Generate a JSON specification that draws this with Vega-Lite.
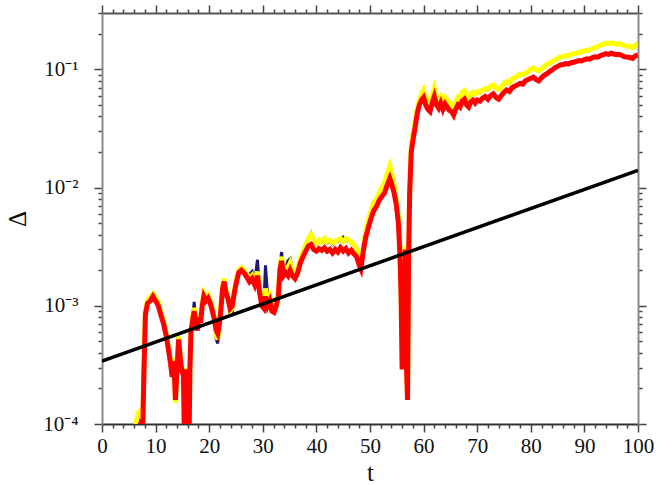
{
  "$schema": "https://vega.github.io/schema/vega-lite/v6.json",
  "width": 536,
  "height": 411,
  "autosize": {"type": "none"},
  "padding": {"left": 102, "top": 13, "right": 34, "bottom": 61},
  "background": "white",
  "config": {
    "view": {"stroke": null},
    "axis": {
      "labelFont": "Liberation Serif",
      "titleFont": "Liberation Serif",
      "labelColor": "#111",
      "titleColor": "#111",
      "labelFontSize": 21,
      "titleFontSize": 25,
      "titleFontWeight": "normal",
      "domainColor": "#8a8a8a",
      "domainWidth": 2,
      "tickColor": "#444",
      "tickWidth": 1.5,
      "grid": false
    }
  },
  "datasets": {
    "ref": [{"t": 0, "v": 0.00034}, {"t": 100, "v": 0.014}],
    "main": [
      {"t": 6.0, "r": 0.00005, "y": 0.00005, "b": 0.00005},
      {"t": 6.4, "r": 0.00008, "y": 0.000105, "b": 0.00009},
      {"t": 6.8, "r": 0.000095, "y": 0.000125, "b": 0.00011},
      {"t": 7.2, "r": 0.0001, "y": 0.00013, "b": 0.00011},
      {"t": 7.6, "r": 0.00009, "y": 0.00011, "b": 0.0001},
      {"t": 7.8, "r": 0.00025, "y": 0.00026, "b": 0.00026},
      {"t": 8.1, "r": 0.00085, "y": 0.0009, "b": 0.00088},
      {"t": 8.5, "r": 0.00105, "y": 0.00112, "b": 0.00108},
      {"t": 9.0, "r": 0.0011, "y": 0.00118, "b": 0.00114},
      {"t": 9.5, "r": 0.0012, "y": 0.00126, "b": 0.00123},
      {"t": 10.0, "r": 0.0011, "y": 0.00117, "b": 0.00113},
      {"t": 10.5, "r": 0.001, "y": 0.00106, "b": 0.00103},
      {"t": 11.0, "r": 0.00083, "y": 0.00088, "b": 0.00085},
      {"t": 11.5, "r": 0.0007, "y": 0.00074, "b": 0.00072},
      {"t": 12.0, "r": 0.00055, "y": 0.00058, "b": 0.00056},
      {"t": 12.5, "r": 0.0004, "y": 0.00042, "b": 0.00041},
      {"t": 12.8, "r": 0.00032, "y": 0.00034, "b": 0.00033},
      {"t": 13.1, "r": 0.00025, "y": 0.00027, "b": 0.00026},
      {"t": 13.4, "r": 0.00034, "y": 0.00036, "b": 0.00035},
      {"t": 13.7, "r": 0.00016, "y": 0.00015, "b": 0.000155},
      {"t": 14.0, "r": 0.0003, "y": 0.00032, "b": 0.00031},
      {"t": 14.3, "r": 0.00052, "y": 0.00055, "b": 0.00053},
      {"t": 14.6, "r": 0.00036, "y": 0.00038, "b": 0.00037},
      {"t": 14.9, "r": 0.00028, "y": 0.0003, "b": 0.00029},
      {"t": 15.2, "r": 0.00026, "y": 0.00027, "b": 0.00026},
      {"t": 15.4, "r": 0.00006, "y": 0.00006, "b": 0.00006},
      {"t": 15.6, "r": 0.00029, "y": 0.0003, "b": 0.00029},
      {"t": 15.8, "r": 0.00005, "y": 0.00008, "b": 0.00006},
      {"t": 16.0, "r": 0.00028, "y": 0.00029, "b": 0.00028},
      {"t": 16.2, "r": 0.00005, "y": 0.00005, "b": 0.00005},
      {"t": 16.4, "r": 0.00029, "y": 0.0003, "b": 0.00029},
      {"t": 16.6, "r": 0.0006, "y": 0.00063, "b": 0.00061},
      {"t": 16.9, "r": 0.00075, "y": 0.0008, "b": 0.00078},
      {"t": 17.2, "r": 0.0009, "y": 0.00096, "b": 0.00108},
      {"t": 17.5, "r": 0.0007, "y": 0.00074, "b": 0.00076},
      {"t": 17.8, "r": 0.00062, "y": 0.00065, "b": 0.00064},
      {"t": 18.1, "r": 0.0008, "y": 0.00085, "b": 0.00083},
      {"t": 18.4, "r": 0.00072, "y": 0.00076, "b": 0.00074},
      {"t": 18.7, "r": 0.001, "y": 0.00106, "b": 0.00103},
      {"t": 19.0, "r": 0.0012, "y": 0.00127, "b": 0.00124},
      {"t": 19.4, "r": 0.0011, "y": 0.00117, "b": 0.00114},
      {"t": 19.8, "r": 0.00116, "y": 0.00123, "b": 0.0012},
      {"t": 20.2, "r": 0.00105, "y": 0.00111, "b": 0.00108},
      {"t": 20.6, "r": 0.0009, "y": 0.00095, "b": 0.00093},
      {"t": 21.0, "r": 0.00075, "y": 0.00078, "b": 0.00076},
      {"t": 21.3, "r": 0.00062, "y": 0.00056, "b": 0.00052},
      {"t": 21.6, "r": 0.00058, "y": 0.00052, "b": 0.00048},
      {"t": 21.9, "r": 0.0007, "y": 0.00072, "b": 0.0007},
      {"t": 22.2, "r": 0.00095, "y": 0.001, "b": 0.00098},
      {"t": 22.5, "r": 0.0014, "y": 0.00148, "b": 0.00144},
      {"t": 22.8, "r": 0.0016, "y": 0.0017, "b": 0.00165},
      {"t": 23.1, "r": 0.0013, "y": 0.00138, "b": 0.00134},
      {"t": 23.5, "r": 0.00115, "y": 0.0012, "b": 0.00118},
      {"t": 23.9, "r": 0.00095, "y": 0.0009, "b": 0.00086},
      {"t": 24.3, "r": 0.001, "y": 0.00096, "b": 0.00086},
      {"t": 24.7, "r": 0.0013, "y": 0.00136, "b": 0.00133},
      {"t": 25.1, "r": 0.0016, "y": 0.0017, "b": 0.00165},
      {"t": 25.5, "r": 0.0019, "y": 0.002, "b": 0.00195},
      {"t": 26.0, "r": 0.002, "y": 0.0021, "b": 0.00205},
      {"t": 26.5, "r": 0.0019, "y": 0.002, "b": 0.00195},
      {"t": 27.0, "r": 0.00175, "y": 0.00185, "b": 0.0018},
      {"t": 27.5, "r": 0.0016, "y": 0.0017, "b": 0.00185},
      {"t": 28.0, "r": 0.0017, "y": 0.0018, "b": 0.00195},
      {"t": 28.5, "r": 0.0015, "y": 0.0016, "b": 0.0016},
      {"t": 29.0, "r": 0.0018, "y": 0.00195, "b": 0.00245},
      {"t": 29.4, "r": 0.0013, "y": 0.0014, "b": 0.0014},
      {"t": 29.8, "r": 0.001, "y": 0.00107, "b": 0.00105},
      {"t": 30.2, "r": 0.00095, "y": 0.001, "b": 0.001},
      {"t": 30.5, "r": 0.0012, "y": 0.0014, "b": 0.0022},
      {"t": 30.9, "r": 0.001, "y": 0.0011, "b": 0.0012},
      {"t": 31.3, "r": 0.0011, "y": 0.0012, "b": 0.0012},
      {"t": 31.7, "r": 0.0009, "y": 0.00096, "b": 0.00094},
      {"t": 32.1, "r": 0.00088, "y": 0.00094, "b": 0.00092},
      {"t": 32.5, "r": 0.001, "y": 0.00106, "b": 0.00104},
      {"t": 32.9, "r": 0.0012, "y": 0.00127, "b": 0.00124},
      {"t": 33.2, "r": 0.002, "y": 0.00215, "b": 0.0022},
      {"t": 33.5, "r": 0.0024, "y": 0.0026, "b": 0.00285},
      {"t": 33.9, "r": 0.0018, "y": 0.00195, "b": 0.0019},
      {"t": 34.3, "r": 0.0019, "y": 0.0021, "b": 0.0021},
      {"t": 34.7, "r": 0.0018, "y": 0.0021, "b": 0.0024},
      {"t": 35.1, "r": 0.002, "y": 0.0023, "b": 0.0025},
      {"t": 35.5, "r": 0.0018, "y": 0.002, "b": 0.002},
      {"t": 36.0, "r": 0.0017, "y": 0.00185, "b": 0.0018},
      {"t": 36.5, "r": 0.0019, "y": 0.00205, "b": 0.002},
      {"t": 37.0, "r": 0.0023, "y": 0.0025, "b": 0.00245},
      {"t": 37.5, "r": 0.0026, "y": 0.00285, "b": 0.0028},
      {"t": 38.0, "r": 0.0029, "y": 0.00325, "b": 0.0032},
      {"t": 38.5, "r": 0.0032, "y": 0.0037, "b": 0.0037},
      {"t": 39.0, "r": 0.0033, "y": 0.004, "b": 0.0041},
      {"t": 39.5, "r": 0.003, "y": 0.0036, "b": 0.0035},
      {"t": 40.0, "r": 0.0029, "y": 0.0034, "b": 0.0033},
      {"t": 40.5, "r": 0.00305, "y": 0.0036, "b": 0.0035},
      {"t": 41.0, "r": 0.00295, "y": 0.00345, "b": 0.0034},
      {"t": 41.5, "r": 0.0031, "y": 0.0037, "b": 0.0036},
      {"t": 42.0, "r": 0.0029, "y": 0.0035, "b": 0.0034},
      {"t": 42.5, "r": 0.003, "y": 0.0036, "b": 0.0035},
      {"t": 43.0, "r": 0.0028, "y": 0.0034, "b": 0.0033},
      {"t": 43.5, "r": 0.003, "y": 0.0035, "b": 0.0035},
      {"t": 44.0, "r": 0.00285, "y": 0.0036, "b": 0.0035},
      {"t": 44.5, "r": 0.0031, "y": 0.0037, "b": 0.0036},
      {"t": 45.0, "r": 0.0029, "y": 0.0035, "b": 0.0038},
      {"t": 45.5, "r": 0.00305, "y": 0.0037, "b": 0.0036},
      {"t": 46.0, "r": 0.0028, "y": 0.0036, "b": 0.0035},
      {"t": 46.5, "r": 0.00295, "y": 0.00345, "b": 0.0034},
      {"t": 47.0, "r": 0.00275, "y": 0.0033, "b": 0.0032},
      {"t": 47.5, "r": 0.0026, "y": 0.003, "b": 0.0029},
      {"t": 48.0, "r": 0.0022, "y": 0.0025, "b": 0.0024},
      {"t": 48.3, "r": 0.00205, "y": 0.00225, "b": 0.0022},
      {"t": 48.7, "r": 0.0028, "y": 0.003, "b": 0.003},
      {"t": 49.2, "r": 0.0038, "y": 0.0042, "b": 0.0041},
      {"t": 49.7, "r": 0.0046, "y": 0.0054, "b": 0.0053},
      {"t": 50.2, "r": 0.0055, "y": 0.0063, "b": 0.0062},
      {"t": 50.7, "r": 0.0064, "y": 0.0075, "b": 0.0074},
      {"t": 51.2, "r": 0.0069, "y": 0.008, "b": 0.0079},
      {"t": 51.7, "r": 0.0078, "y": 0.009, "b": 0.0089},
      {"t": 52.2, "r": 0.0084, "y": 0.01, "b": 0.0098},
      {"t": 52.7, "r": 0.009, "y": 0.011, "b": 0.0108},
      {"t": 53.2, "r": 0.0105, "y": 0.013, "b": 0.0127},
      {"t": 53.7, "r": 0.012, "y": 0.0152, "b": 0.015},
      {"t": 54.1, "r": 0.0105, "y": 0.013, "b": 0.0128},
      {"t": 54.5, "r": 0.009, "y": 0.0105, "b": 0.0103},
      {"t": 54.9, "r": 0.0072, "y": 0.008, "b": 0.0079},
      {"t": 55.3, "r": 0.005, "y": 0.0056, "b": 0.0055},
      {"t": 55.6, "r": 0.0026, "y": 0.003, "b": 0.0029},
      {"t": 55.8, "r": 0.0012, "y": 0.0013, "b": 0.0013},
      {"t": 56.0, "r": 0.00029, "y": 0.0003, "b": 0.0003},
      {"t": 56.2, "r": 0.002, "y": 0.0021, "b": 0.002},
      {"t": 56.4, "r": 0.0004, "y": 0.00042, "b": 0.00041},
      {"t": 56.6, "r": 0.003, "y": 0.0032, "b": 0.0031},
      {"t": 56.8, "r": 0.00032, "y": 0.00033, "b": 0.00033},
      {"t": 57.0, "r": 0.00016, "y": 0.00017, "b": 0.00017},
      {"t": 57.2, "r": 0.0025, "y": 0.0027, "b": 0.0026},
      {"t": 57.4, "r": 0.009, "y": 0.0098, "b": 0.0095},
      {"t": 57.7, "r": 0.02, "y": 0.022, "b": 0.0215},
      {"t": 58.0, "r": 0.025, "y": 0.028, "b": 0.027},
      {"t": 58.4, "r": 0.032, "y": 0.036, "b": 0.035},
      {"t": 58.8, "r": 0.042, "y": 0.046, "b": 0.045},
      {"t": 59.2, "r": 0.05, "y": 0.055, "b": 0.054},
      {"t": 59.6, "r": 0.055, "y": 0.062, "b": 0.061},
      {"t": 60.0, "r": 0.058, "y": 0.067, "b": 0.066},
      {"t": 60.4, "r": 0.05, "y": 0.058, "b": 0.057},
      {"t": 60.8, "r": 0.046, "y": 0.054, "b": 0.053},
      {"t": 61.2, "r": 0.044, "y": 0.052, "b": 0.051},
      {"t": 61.6, "r": 0.052, "y": 0.06, "b": 0.059},
      {"t": 62.0, "r": 0.059, "y": 0.069, "b": 0.068},
      {"t": 62.4, "r": 0.05, "y": 0.058, "b": 0.057},
      {"t": 62.8, "r": 0.047, "y": 0.055, "b": 0.054},
      {"t": 63.2, "r": 0.052, "y": 0.059, "b": 0.058},
      {"t": 63.6, "r": 0.046, "y": 0.054, "b": 0.053},
      {"t": 64.0, "r": 0.051, "y": 0.058, "b": 0.057},
      {"t": 64.4, "r": 0.048, "y": 0.055, "b": 0.054},
      {"t": 64.8, "r": 0.045, "y": 0.053, "b": 0.052},
      {"t": 65.2, "r": 0.044, "y": 0.05, "b": 0.049},
      {"t": 65.6, "r": 0.041, "y": 0.048, "b": 0.047},
      {"t": 66.0, "r": 0.046, "y": 0.053, "b": 0.052},
      {"t": 66.4, "r": 0.05, "y": 0.058, "b": 0.057},
      {"t": 66.8, "r": 0.048, "y": 0.056, "b": 0.055},
      {"t": 67.2, "r": 0.054, "y": 0.064, "b": 0.063},
      {"t": 67.6, "r": 0.056, "y": 0.066, "b": 0.065},
      {"t": 68.0, "r": 0.05, "y": 0.059, "b": 0.058},
      {"t": 68.4, "r": 0.048, "y": 0.057, "b": 0.056},
      {"t": 68.8, "r": 0.053, "y": 0.062, "b": 0.061},
      {"t": 69.2, "r": 0.055, "y": 0.064, "b": 0.063},
      {"t": 69.6, "r": 0.052, "y": 0.062, "b": 0.061},
      {"t": 70.0, "r": 0.055, "y": 0.065, "b": 0.064},
      {"t": 70.5, "r": 0.054, "y": 0.064, "b": 0.063},
      {"t": 71.0, "r": 0.057, "y": 0.067, "b": 0.066},
      {"t": 71.5, "r": 0.059, "y": 0.069, "b": 0.068},
      {"t": 72.0, "r": 0.056, "y": 0.068, "b": 0.067},
      {"t": 72.5, "r": 0.06, "y": 0.072, "b": 0.071},
      {"t": 73.0, "r": 0.062, "y": 0.074, "b": 0.073},
      {"t": 73.5, "r": 0.058, "y": 0.07, "b": 0.069},
      {"t": 74.0, "r": 0.056, "y": 0.068, "b": 0.067},
      {"t": 74.5, "r": 0.06, "y": 0.071, "b": 0.07},
      {"t": 75.0, "r": 0.064, "y": 0.076, "b": 0.075},
      {"t": 75.5, "r": 0.067, "y": 0.079, "b": 0.078},
      {"t": 76.0, "r": 0.065, "y": 0.077, "b": 0.076},
      {"t": 76.5, "r": 0.07, "y": 0.083, "b": 0.082},
      {"t": 77.0, "r": 0.072, "y": 0.085, "b": 0.084},
      {"t": 77.5, "r": 0.074, "y": 0.088, "b": 0.087},
      {"t": 78.0, "r": 0.076, "y": 0.091, "b": 0.09},
      {"t": 78.5, "r": 0.075, "y": 0.09, "b": 0.089},
      {"t": 79.0, "r": 0.08, "y": 0.093, "b": 0.092},
      {"t": 79.5, "r": 0.082, "y": 0.096, "b": 0.095},
      {"t": 80.0, "r": 0.084, "y": 0.1, "b": 0.099},
      {"t": 80.5, "r": 0.086, "y": 0.103, "b": 0.102},
      {"t": 81.0, "r": 0.082, "y": 0.099, "b": 0.098},
      {"t": 81.5, "r": 0.08, "y": 0.097, "b": 0.096},
      {"t": 82.0, "r": 0.085, "y": 0.101, "b": 0.1},
      {"t": 82.5, "r": 0.089, "y": 0.106, "b": 0.105},
      {"t": 83.0, "r": 0.092, "y": 0.11, "b": 0.109},
      {"t": 83.5, "r": 0.096, "y": 0.113, "b": 0.112},
      {"t": 84.0, "r": 0.099, "y": 0.116, "b": 0.115},
      {"t": 84.5, "r": 0.103, "y": 0.12, "b": 0.119},
      {"t": 85.0, "r": 0.106, "y": 0.124, "b": 0.123},
      {"t": 85.5, "r": 0.109, "y": 0.127, "b": 0.126},
      {"t": 86.0, "r": 0.11, "y": 0.129, "b": 0.128},
      {"t": 86.5, "r": 0.112, "y": 0.131, "b": 0.13},
      {"t": 87.0, "r": 0.111, "y": 0.13, "b": 0.129},
      {"t": 87.5, "r": 0.114, "y": 0.134, "b": 0.133},
      {"t": 88.0, "r": 0.115, "y": 0.136, "b": 0.135},
      {"t": 88.5, "r": 0.117, "y": 0.137, "b": 0.136},
      {"t": 89.0, "r": 0.119, "y": 0.139, "b": 0.138},
      {"t": 89.5, "r": 0.118, "y": 0.141, "b": 0.14},
      {"t": 90.0, "r": 0.121, "y": 0.143, "b": 0.142},
      {"t": 90.5, "r": 0.123, "y": 0.145, "b": 0.144},
      {"t": 91.0, "r": 0.122, "y": 0.146, "b": 0.145},
      {"t": 91.5, "r": 0.126, "y": 0.15, "b": 0.149},
      {"t": 92.0, "r": 0.128, "y": 0.153, "b": 0.152},
      {"t": 92.5, "r": 0.127, "y": 0.156, "b": 0.155},
      {"t": 93.0, "r": 0.131, "y": 0.16, "b": 0.159},
      {"t": 93.5, "r": 0.133, "y": 0.163, "b": 0.162},
      {"t": 94.0, "r": 0.136, "y": 0.167, "b": 0.166},
      {"t": 94.5, "r": 0.134, "y": 0.165, "b": 0.164},
      {"t": 95.0, "r": 0.137, "y": 0.168, "b": 0.167},
      {"t": 95.5, "r": 0.135, "y": 0.166, "b": 0.165},
      {"t": 96.0, "r": 0.133, "y": 0.163, "b": 0.162},
      {"t": 96.5, "r": 0.134, "y": 0.165, "b": 0.164},
      {"t": 97.0, "r": 0.131, "y": 0.162, "b": 0.161},
      {"t": 97.5, "r": 0.128, "y": 0.159, "b": 0.158},
      {"t": 98.0, "r": 0.127, "y": 0.157, "b": 0.156},
      {"t": 98.5, "r": 0.126, "y": 0.156, "b": 0.155},
      {"t": 99.0, "r": 0.124, "y": 0.153, "b": 0.152},
      {"t": 99.5, "r": 0.13, "y": 0.16, "b": 0.159},
      {"t": 100.0, "r": 0.133, "y": 0.165, "b": 0.164}
    ]
  },
  "resolve": {"axis": {"x": "independent", "y": "independent"}},
  "layer": [
    {
      "data": {"name": "main"},
      "mark": {"type": "line", "color": "#1c1c78", "strokeWidth": 3, "clip": true},
      "encoding": {
        "x": {"field": "t", "type": "quantitative", "scale": {"domain": [0, 100], "nice": false, "zero": false}, "axis": null},
        "y": {"field": "b", "type": "quantitative", "scale": {"type": "log", "domain": [0.0001, 0.3], "nice": false}, "axis": null}
      }
    },
    {
      "data": {"name": "main"},
      "mark": {"type": "line", "color": "#ffff00", "strokeWidth": 5, "clip": true},
      "encoding": {
        "x": {"field": "t", "type": "quantitative", "scale": {"domain": [0, 100], "nice": false, "zero": false},
          "axis": {"orient": "top", "values": [0,2,4,6,8,10,12,14,16,18,20,22,24,26,28,30,32,34,36,38,40,42,44,46,48,50,52,54,56,58,60,62,64,66,68,70,72,74,76,78,80,82,84,86,88,90,92,94,96,98,100],
            "labels": false, "title": null, "domainColor": "#555",
            "tickSize": {"condition": {"test": "datum.value % 10 === 0", "value": 8}, "value": 4}}},
        "y": {"field": "y", "type": "quantitative", "scale": {"type": "log", "domain": [0.0001, 0.3], "nice": false},
          "axis": {"orient": "right", "values": [0.0001,0.0002,0.0003,0.0004,0.0005,0.0006,0.0007,0.0008,0.0009,0.001,0.002,0.003,0.004,0.005,0.006,0.007,0.008,0.009,0.01,0.02,0.03,0.04,0.05,0.06,0.07,0.08,0.09,0.1,0.2,0.3],
            "labels": false, "title": null,
            "tickSize": {"condition": {"test": "datum.value == 0.0001 || datum.value == 0.001 || datum.value == 0.01 || datum.value == 0.1", "value": 8}, "value": 4}}}
      }
    },
    {
      "data": {"name": "main"},
      "mark": {"type": "line", "color": "#ff0000", "strokeWidth": 5, "clip": true},
      "encoding": {
        "x": {"field": "t", "type": "quantitative", "scale": {"domain": [0, 100], "nice": false, "zero": false},
          "axis": {"orient": "bottom", "values": [0,2,4,6,8,10,12,14,16,18,20,22,24,26,28,30,32,34,36,38,40,42,44,46,48,50,52,54,56,58,60,62,64,66,68,70,72,74,76,78,80,82,84,86,88,90,92,94,96,98,100],
            "labelExpr": "datum.value % 10 === 0 ? datum.label : ''", "labelPadding": 3, "labelFlush": false,
            "title": "t", "titlePadding": 4, "domainColor": "#333",
            "tickSize": {"condition": {"test": "datum.value % 10 === 0", "value": 8}, "value": 4}}},
        "y": {"field": "r", "type": "quantitative", "scale": {"type": "log", "domain": [0.0001, 0.3], "nice": false},
          "axis": {"orient": "left", "values": [0.0001,0.0002,0.0003,0.0004,0.0005,0.0006,0.0007,0.0008,0.0009,0.001,0.002,0.003,0.004,0.005,0.006,0.007,0.008,0.009,0.01,0.02,0.03,0.04,0.05,0.06,0.07,0.08,0.09,0.1,0.2,0.3],
            "labelExpr": "datum.value == 0.0001 ? '10⁻⁴' : datum.value == 0.001 ? '10⁻³' : datum.value == 0.01 ? '10⁻²' : datum.value == 0.1 ? '10⁻¹' : ''",
            "labelPadding": 16, "labelFlush": false,
            "title": "Δ", "titlePadding": 12,
            "tickSize": {"condition": {"test": "datum.value == 0.0001 || datum.value == 0.001 || datum.value == 0.01 || datum.value == 0.1", "value": 8}, "value": 4}}}
      }
    },
    {
      "data": {"name": "ref"},
      "mark": {"type": "line", "color": "#000000", "strokeWidth": 3.5, "clip": true},
      "encoding": {
        "x": {"field": "t", "type": "quantitative", "scale": {"domain": [0, 100], "nice": false, "zero": false}, "axis": null},
        "y": {"field": "v", "type": "quantitative", "scale": {"type": "log", "domain": [0.0001, 0.3], "nice": false}, "axis": null}
      }
    }
  ]
}
